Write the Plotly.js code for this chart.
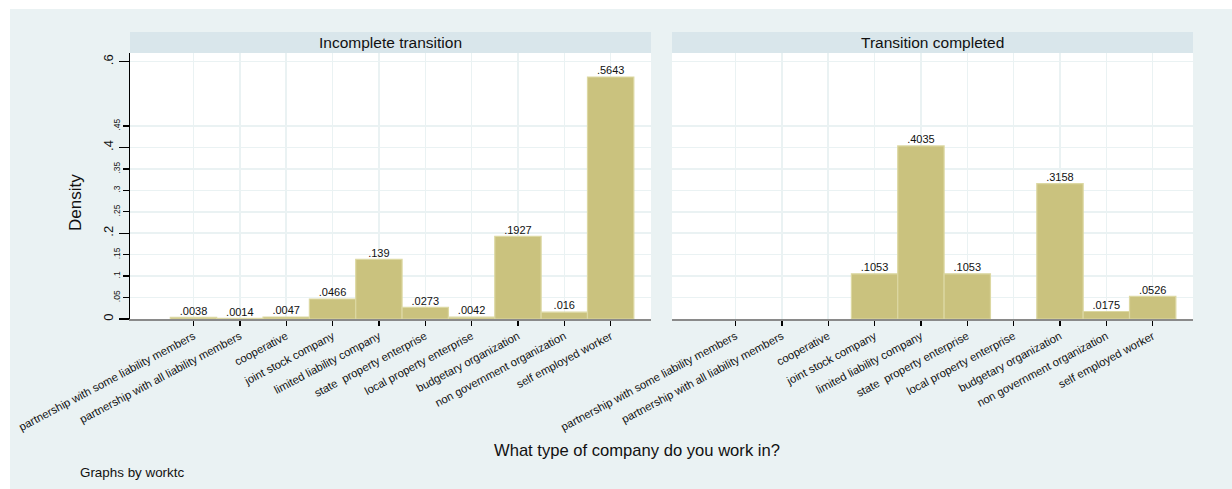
<!DOCTYPE html>
<html><head><meta charset="utf-8">
<script src="https://cdn.plot.ly/plotly-3.0.1.min.js"></script>
<style>body{margin:0;background:#fff}</style>
</head><body>
<div id="chart" style="width:1232px;height:489px"></div>
<script>
const categories = [
  'partnership with some liability members',
  'partnership with all liability members',
  'cooperative',
  'joint stock company',
  'limited liability company',
  'state  property enterprise',
  'local property enterprise',
  'budgetary organization',
  'non government organization',
  'self employed worker'
];
const incompleteDensity = [0.0038, 0.0014, 0.0047, 0.0466, 0.139, 0.0273, 0.0042, 0.1927, 0.016, 0.5643];
const completedDensity  = [0, 0, 0, 0.1053, 0.4035, 0.1053, 0, 0.3158, 0.0175, 0.0526];
const panelTitles = ['Incomplete transition', 'Transition completed'];
const yMajorTicks = [0, 0.2, 0.4, 0.6];
const yMajorLabels = ['0', '.2', '.4', '.6'];
const yMinorTicks = [0.05, 0.1, 0.15, 0.25, 0.3, 0.35, 0.45];
const yMinorLabels = ['.05', '.1', '.15', '.25', '.3', '.35', '.45'];
const xTitle = 'What type of company do you work in?';
const yTitle = 'Density';
const note = 'Graphs by worktc';

const FONT = 'Liberation Sans, Arial, Helvetica, sans-serif';
const TXT = '#111111';
const BAR = '#cac27e', BAR_LINE = '#dcd8a2', GRID = '#eaf2f3', BG = '#eaf2f3', STRIP = '#d9e6eb';
const pos = categories.map((c, i) => i);
const fmt = v => String(v).replace(/^0\./, '.');

function panelTraces(vals, xa, ya) {
  const xs = [], ys = [], ts = [];
  vals.forEach((v, i) => { if (v > 0) { xs.push(pos[i]); ys.push(v); ts.push(fmt(v)); } });
  return [
    { type: 'bar', x: xs, y: ys, width: 1, xaxis: xa, yaxis: ya,
      marker: { color: BAR, line: { color: BAR_LINE, width: 1.2 } }, hoverinfo: 'skip' },
    { type: 'scatter', mode: 'text', x: xs, y: ys, text: ts, textposition: 'top center',
      textfont: { family: FONT, size: 11, color: TXT }, cliponaxis: false,
      xaxis: xa, yaxis: ya, hoverinfo: 'skip' }
  ];
}

const data = [
  { type: 'scatter', mode: 'markers', x: [0], y: [0], xaxis: 'x', yaxis: 'y3',
    marker: { opacity: 0, size: 1 }, hoverinfo: 'skip' },
  ...panelTraces(incompleteDensity, 'x', 'y'),
  ...panelTraces(completedDensity, 'x2', 'y2')
];

const yRange = [0, 0.6203];
const xRange = [-1.37, 9.87];
const xCommon = {
  range: xRange, tickmode: 'array', tickvals: pos, ticktext: categories,
  tickangle: -28, ticks: 'outside', ticklen: 5, tickwidth: 1.3, tickcolor: '#000',
  showline: true, linecolor: '#8a8a8a', linewidth: 1.5,
  showgrid: true, gridcolor: GRID, gridwidth: 1.5, zeroline: false,
  tickfont: { family: FONT, size: 11.3, color: TXT }, fixedrange: true
};

const layout = {
  width: 1232, height: 489,
  margin: { l: 130, r: 39, t: 53, b: 170 },
  paper_bgcolor: BG, plot_bgcolor: '#ffffff',
  showlegend: false, bargap: 0,
  font: { family: FONT, color: TXT },
  xaxis: Object.assign({}, xCommon, { domain: [0, 0.4901], anchor: 'y' }),
  xaxis2: Object.assign({}, xCommon, { domain: [0.5099, 1], anchor: 'y2' }),
  yaxis: {
    domain: [0, 1], range: yRange, anchor: 'x', tickmode: 'array',
    tickvals: yMajorTicks, ticktext: yMajorLabels, tickangle: -90,
    ticks: 'outside', ticklen: 10, tickwidth: 1.3, tickcolor: '#000',
    showline: true, linecolor: '#000', linewidth: 1.5,
    showgrid: true, gridcolor: GRID, gridwidth: 1.5, zeroline: false,
    tickfont: { family: FONT, size: 13, color: TXT }, fixedrange: true
  },
  yaxis3: {
    overlaying: 'y', anchor: 'x', side: 'left', range: yRange, tickmode: 'array',
    tickvals: yMinorTicks, ticktext: yMinorLabels, tickangle: -90,
    ticks: 'outside', ticklen: 6, tickwidth: 1.3, tickcolor: '#000',
    showline: false, showgrid: true, gridcolor: GRID, gridwidth: 1.5, zeroline: false,
    tickfont: { family: FONT, size: 8.5, color: TXT }, fixedrange: true
  },
  yaxis2: {
    domain: [0, 1], range: yRange, anchor: 'x2', tickmode: 'array',
    tickvals: yMajorTicks.concat(yMinorTicks), showticklabels: false, ticks: '',
    showline: false, showgrid: true, gridcolor: GRID, gridwidth: 1.5, zeroline: false, fixedrange: true
  },
  shapes: [
    { type: 'rect', xref: 'x domain', yref: 'paper', x0: 0, x1: 1, y0: 1, y1: 1 + 21 / 266,
      fillcolor: STRIP, line: { width: 0 } },
    { type: 'rect', xref: 'x2 domain', yref: 'paper', x0: 0, x1: 1, y0: 1, y1: 1 + 21 / 266,
      fillcolor: STRIP, line: { width: 0 } },
    { type: 'rect', xref: 'paper', yref: 'paper', x0: -0.2, x1: 1.1, y0: (319 - 9) / 266, y1: 1.3,
      fillcolor: '#ffffff', line: { width: 0 }, layer: 'above' },
    { type: 'rect', xref: 'paper', yref: 'paper', x0: -0.2, x1: (10 - 130) / 1063, y0: -1, y1: 1.3,
      fillcolor: '#ffffff', line: { width: 0 }, layer: 'above' }
  ],
  annotations: [
    { text: panelTitles[0], xref: 'x domain', yref: 'paper', x: 0.5, y: 1 + 10.5 / 266,
      yanchor: 'middle', showarrow: false, font: { family: FONT, size: 15.5, color: TXT } },
    { text: panelTitles[1], xref: 'x2 domain', yref: 'paper', x: 0.5, y: 1 + 10.5 / 266,
      yanchor: 'middle', showarrow: false, font: { family: FONT, size: 15.5, color: TXT } },
    { text: yTitle, xref: 'paper', yref: 'paper', x: (64 - 130) / 1063, y: (319 - 233) / 266,
      textangle: -90, showarrow: false, font: { family: FONT, size: 17, color: TXT } },
    { text: xTitle, xref: 'paper', yref: 'paper', x: (637 - 130) / 1063, y: (319 - 450) / 266,
      yanchor: 'middle', showarrow: false, font: { family: FONT, size: 16.6, color: TXT } },
    { text: note, xref: 'paper', yref: 'paper', x: (78 - 130) / 1063, y: (319 - 472) / 266,
      xanchor: 'left', yanchor: 'middle', showarrow: false, font: { family: FONT, size: 13.4, color: TXT } }
  ]
};

Plotly.newPlot('chart', data, layout, { displayModeBar: false, staticPlot: true });
</script>
</body></html>
